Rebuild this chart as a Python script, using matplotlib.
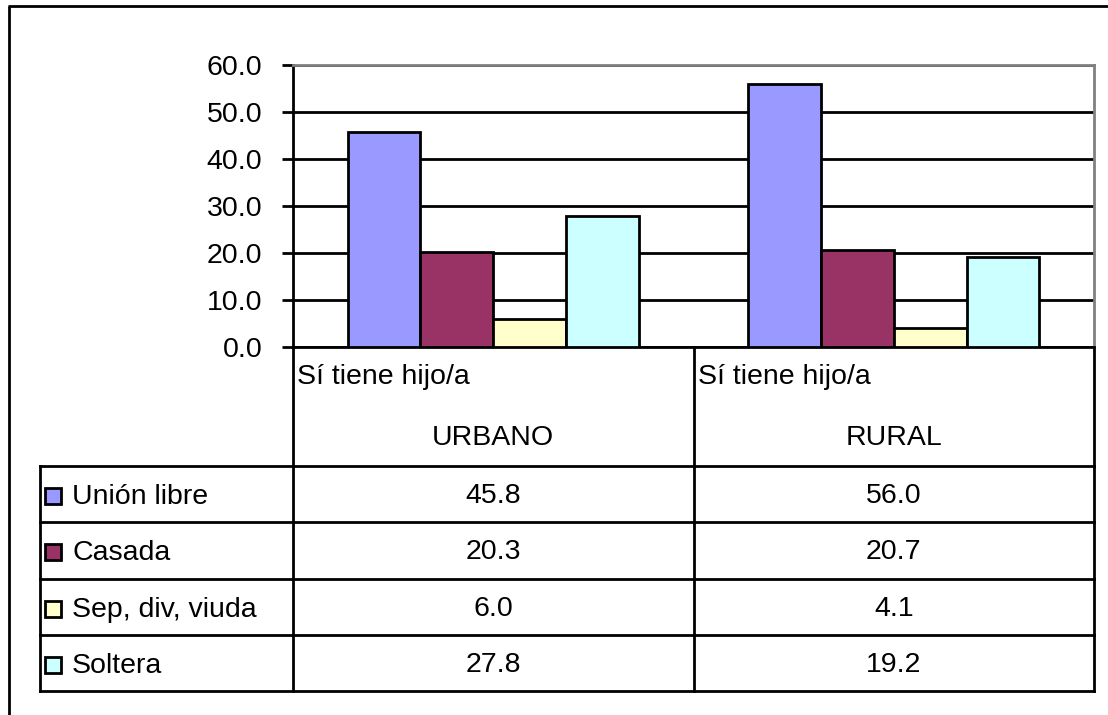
import matplotlib
matplotlib.use("Agg")
import matplotlib.pyplot as plt
from matplotlib.patches import Rectangle
import numpy as np

plt.rcParams['font.family'] = ['Liberation Sans', 'DejaVu Sans']

# ---- data ----
categories = ["URBANO", "RURAL"]
category_prefix = ["Sí tiene hijo/a", "Sí tiene hijo/a"]
series_names = ["Unión libre", "Casada", "Sep, div, viuda", "Soltera"]
series_values = [
    [45.8, 56.0],
    [20.3, 20.7],
    [6.0, 4.1],
    [27.8, 19.2],
]
series_colors = ["#9999FF", "#993366", "#FFFFCC", "#CCFFFF"]
y_ticks = [0, 10, 20, 30, 40, 50, 60]

W, H = 1108, 715
DPI = 100
FS = 20.5
LW = 2.0

fig = plt.figure(figsize=(W / DPI, H / DPI), dpi=DPI)

# overlay axes in pixel coordinates
ov = fig.add_axes([0, 0, 1, 1])
ov.set_xlim(0, W)
ov.set_ylim(H, 0)
ov.axis('off')

# plot-area geometry (pixels)
PL, PR, PT, PB = 293, 1094, 65, 347
TL = 40          # table left
HDR_B = 466      # header bottom
ROW_H = 56.3

ax = fig.add_axes([PL / W, 1 - PB / H, (PR - PL) / W, (PB - PT) / H])
ax.set_zorder(2)
ax.patch.set_alpha(0)

n = len(series_names)
bw = 1 / (n + 1.5)
x = np.arange(len(categories))
for i, (name, vals, col) in enumerate(zip(series_names, series_values, series_colors)):
    off = (i - (n - 1) / 2) * bw
    ax.bar(x + off, vals, bw, color=col, edgecolor='black', linewidth=LW, zorder=3)

ax.set_xlim(-0.5, len(categories) - 0.5)
ax.set_ylim(0, 60)
ax.set_yticks(y_ticks)
ax.set_yticklabels([f"{v:.1f}" for v in y_ticks], fontsize=FS)
ax.yaxis.grid(True, color='black', linewidth=LW, zorder=0)
ax.set_axisbelow(True)
ax.tick_params(axis='y', direction='out', length=8, width=LW, pad=14)
ax.set_xticks([])
ax.spines['left'].set_linewidth(LW)
ax.spines['bottom'].set_linewidth(LW)
ax.spines['top'].set_color('#808080')
ax.spines['right'].set_color('#808080')
ax.spines['top'].set_linewidth(LW)
ax.spines['right'].set_linewidth(LW)

# outer frame
ov.plot([8, W], [6, 6], color='black', lw=LW, solid_capstyle='butt')
ov.plot([9, 9], [6, H], color='black', lw=LW, solid_capstyle='butt')

# data table
ncat = len(categories)
col_w = (PR - PL) / ncat
col_x = [PL + k * col_w for k in range(ncat + 1)]
nrow = len(series_names)
row_y = [HDR_B + r * ROW_H for r in range(nrow + 1)]

# header vertical lines
for cx in col_x:
    ov.plot([cx, cx], [PB, row_y[-1]], color='black', lw=LW)
# horizontal lines
for ry in row_y:
    ov.plot([TL, PR], [ry, ry], color='black', lw=LW)
ov.plot([TL, TL], [HDR_B, row_y[-1]], color='black', lw=LW)

for k, (pre, cat) in enumerate(zip(category_prefix, categories)):
    ov.text(col_x[k] + 4, 377, pre, fontsize=FS, ha='left', va='center')
    ov.text(col_x[k] + col_w / 2, 438, cat, fontsize=FS, ha='center', va='center')

for r, (name, vals, col) in enumerate(zip(series_names, series_values, series_colors)):
    cy = row_y[r] + ROW_H / 2 + 2
    ov.add_patch(Rectangle((45, cy - 8), 16, 16, facecolor=col, edgecolor='black', lw=LW))
    ov.text(72, cy + 1, name, fontsize=FS, ha='left', va='center')
    for k, v in enumerate(vals):
        ov.text(col_x[k] + col_w / 2, cy, f"{v:.1f}", fontsize=FS, ha='center', va='center')

fig.savefig("out.png", dpi=DPI)
